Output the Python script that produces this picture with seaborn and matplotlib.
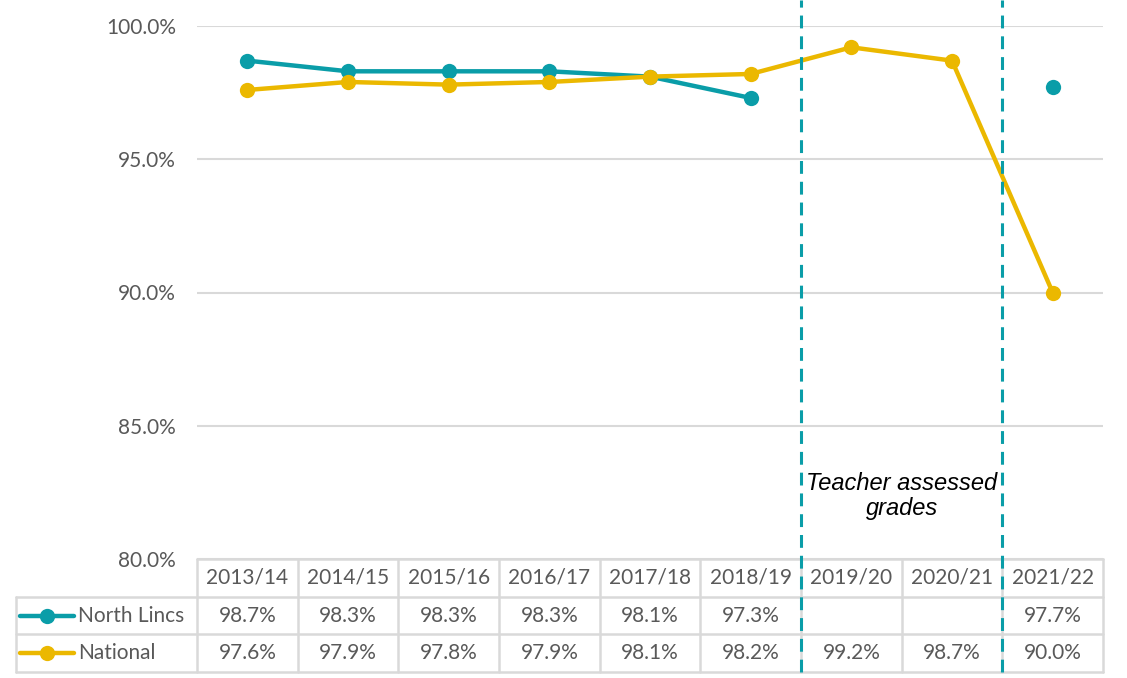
import numpy as np
import pandas as pd
from matplotlib import pyplot as plt
import seaborn as sns

years = ['2013/14', '2014/15', '2015/16', '2016/17', '2017/18', '2018/19', '2019/20', '2020/21', '2021/22']
north_lincs = [98.7, 98.3, 98.3, 98.3, 98.1, 97.3, np.nan, np.nan, 97.7]
national = [97.6, 97.9, 97.8, 97.9, 98.1, 98.2, 99.2, 98.7, 90.0]
# break in North Lincs line (no data for the teacher assessed years)
nl_segment = [0, 0, 0, 0, 0, 0, 1, 1, 1]
series_names = ['North Lincs', 'National']
colors = ['#0A9DA8', '#EBB800']
yticks = [80, 85, 90, 95, 100]

sns.set_theme(style='white')
plt.rcParams['font.family'] = ['Lato', 'DejaVu Sans']
grey = '#595959'
border = '#D9D9D9'
fs = 15

W, H = 1127, 678
fig = plt.figure(figsize=(W / 100, H / 100), dpi=100)
ax = fig.add_axes([197 / W, 1 - 559 / H, 906 / W, 533 / H])
ax.set_zorder(3)

x = np.arange(len(years))
nl = pd.DataFrame({'x': x, 'y': north_lincs, 'seg': nl_segment})
nat = pd.DataFrame({'x': x, 'y': national})

sns.lineplot(data=nl, x='x', y='y', units='seg', estimator=None, color=colors[0],
             lw=3.2, marker='o', markersize=11, markeredgewidth=0, ax=ax, zorder=3)
sns.lineplot(data=nat, x='x', y='y', color=colors[1],
             lw=3.2, marker='o', markersize=11, markeredgewidth=0, ax=ax, zorder=4)

ax.set_xlim(-0.5, len(years) - 0.5)
ax.set_ylim(80, 100)
ax.set_yticks(yticks)
ax.set_yticklabels([f'{v:.1f}%' for v in yticks], color=grey, fontsize=fs)
ax.tick_params(axis='y', length=0, pad=15)
ax.set_xticks([])
ax.set_xlabel('')
ax.set_ylabel('')
for s in ax.spines.values():
    s.set_visible(False)
ax.grid(axis='y', color=border, lw=1.5)
ax.set_axisbelow(True)

# dashed markers around the teacher assessed years
for xv in [5.5, 7.5]:
    ax.axvline(xv, ymin=-113 / 533, ymax=559 / 533, color='#0A9DA8', lw=2.2,
               dashes=(4.2, 2.6), clip_on=False, zorder=10)
ax.text(6.5, 82.35, 'Teacher assessed\ngrades', ha='center', va='center',
        fontsize=17, style='italic', family=['Liberation Sans', 'DejaVu Sans'],
        color='black', linespacing=1.12, zorder=11)

# data table under the chart
colw = 906 / len(years)
left = -0.5 - 181 / colw
tax = fig.add_axes([16 / W, 1 - 672 / H, 1087 / W, 113 / H])
tax.set_zorder(1)
tax.set_xlim(left, len(years) - 0.5)
tax.set_ylim(3, 0)
tax.axis('off')
kw = dict(color=border, lw=1.8, clip_on=False, zorder=1)
tax.plot([-0.5, len(years) - 0.5], [0, 0], **kw)
for r in [1, 2, 3]:
    tax.plot([left, len(years) - 0.5], [r, r], **kw)
for i in range(len(years) + 1):
    tax.plot([i - 0.5, i - 0.5], [0, 3], **kw)
tax.plot([left, left], [1, 3], **kw)

for i, yr in enumerate(years):
    tax.text(i, 0.5, yr, ha='center', va='center', color=grey, fontsize=fs)
for r, (name, vals, c) in enumerate(zip(series_names, [north_lincs, national], colors), start=1):
    tax.plot([left + 0.04, left + 0.58], [r + 0.5, r + 0.5], color=c, lw=3.2, solid_capstyle='round', zorder=3)
    tax.plot(left + 0.31, r + 0.5, 'o', color=c, markersize=11, markeredgewidth=0, zorder=3)
    tax.text(left + 0.62, r + 0.5, name, ha='left', va='center', color=grey, fontsize=fs)
    for i, v in enumerate(vals):
        if not np.isnan(v):
            tax.text(i, r + 0.5, f'{v:.1f}%', ha='center', va='center', color=grey, fontsize=fs)

fig.savefig('out.png', dpi=100)
